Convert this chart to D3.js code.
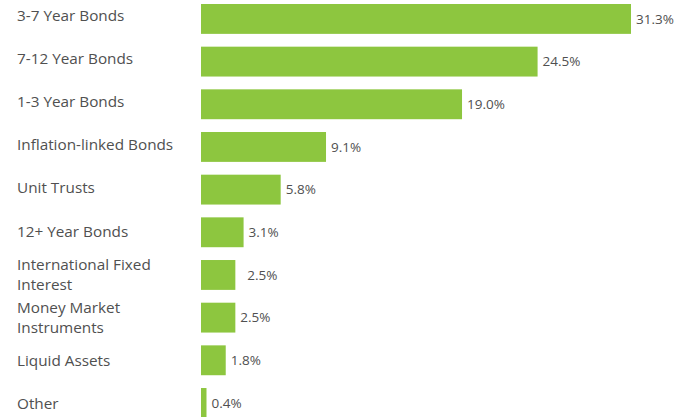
<!DOCTYPE html>
<html>
<head>
<meta charset="utf-8">
<script src="https://cdn.jsdelivr.net/npm/d3@7"></script>
<style>
  body { margin: 0; background: #fff; }
  text { font-family: "Open Sans", sans-serif; }
</style>
</head>
<body>
<svg id="chart" width="688" height="417"></svg>
<script>
// Chart data
let categories = [
    ['3-7 Year Bonds'],
    ['7-12 Year Bonds'],
    ['1-3 Year Bonds'],
    ['Inflation-linked Bonds'],
    ['Unit Trusts'],
    ['12+ Year Bonds'],
    ['International Fixed', 'Interest'],
    ['Money Market', 'Instruments'],
    ['Liquid Assets'],
    ['Other']
];
let values = [31.3, 24.5, 19.0, 9.1, 5.8, 3.1, 2.5, 2.5, 1.8, 0.4];
let valueLabels = ['31.3%', '24.5%', '19.0%', '9.1%', '5.8%', '3.1%', '\u00a0\u00a02.5%', '2.5%', '1.8%', '0.4%'];

let drawBars = () => {
    let svg = d3.select('#chart');
    let keys = categories.map((c) => c.join(' '));

    // Scales
    let y = d3.scaleBand()
        .domain(keys)
        .range([-2.4, 424.3])
        .paddingInner(0.3)
        .paddingOuter(0.15);

    // label baselines run on a slightly wider step than the bars
    let yLabel = d3.scalePoint()
        .domain(keys)
        .range([21, 409]);

    let x = d3.scaleLinear()
        .domain([0, d3.max(values)])
        .range([201, 631]);

    let rows = svg.selectAll('g.row')
        .data(values.map((v, i) => ({ key: keys[i], lines: categories[i], value: v, label: valueLabels[i] })))
        .enter()
        .append('g')
        .attr('class', 'row');

    // Bars
    rows.append('rect')
        .attr('x', x(0))
        .attr('y', (d) => y(d.key))
        .attr('width', (d) => x(d.value) - x(0))
        .attr('height', y.bandwidth())
        .attr('fill', '#8dc63f');

    // Category labels (one text per line, wrapped ones stacked)
    let lineGap = 19.5;
    rows.each(function (d) {
        let base = yLabel(d.key);
        let n = d.lines.length;
        d.lines.forEach((l, i) => {
            d3.select(this).append('text')
                .attr('x', 17)
                .attr('y', n === 1 ? base : base - 9.5 + i * lineGap)
                .attr('fill', '#505050')
                .style('font-size', '15.3px')
                .text(l);
        });
    });

    // Value labels
    rows.append('text')
        .attr('x', (d) => x(d.value) + 5)
        .attr('y', (d) => y(d.key) + y.bandwidth() / 2)
        .attr('dy', '0.35em')
        .attr('fill', '#505050')
        .style('font-size', '13.5px')
        .text((d) => d.label);
};

drawBars();
</script>
</body>
</html>
